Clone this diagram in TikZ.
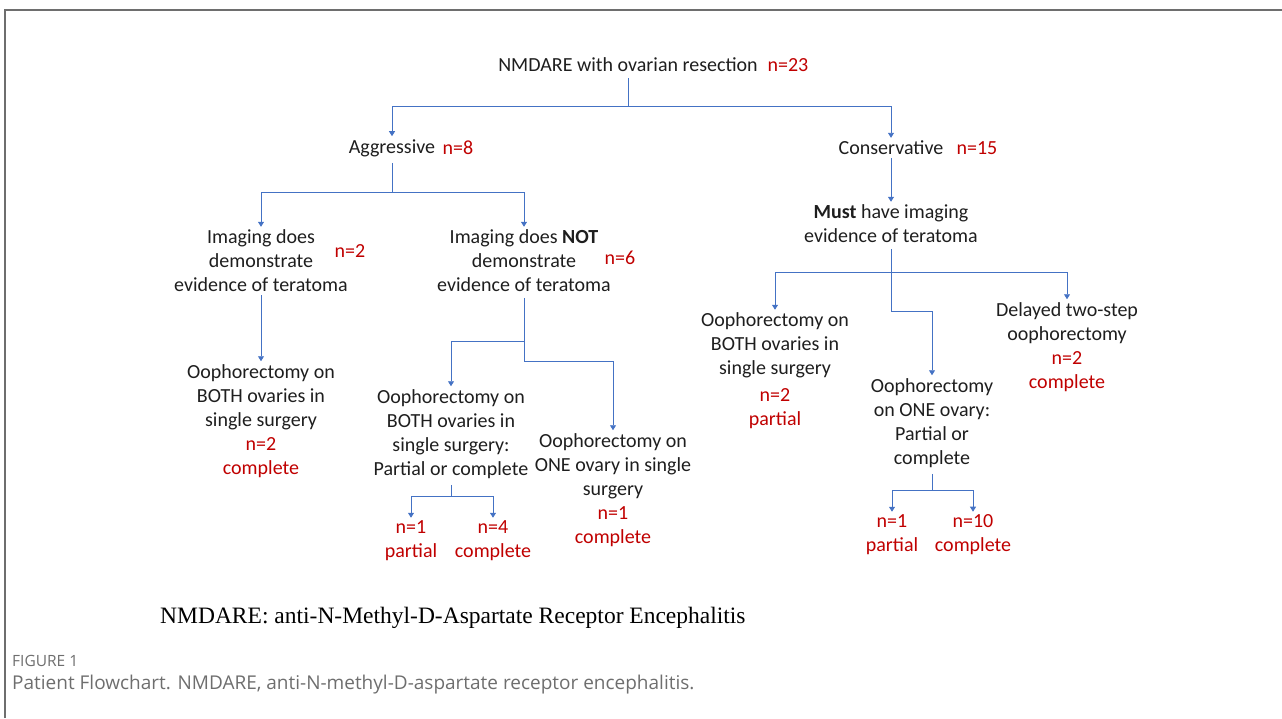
\documentclass[tikz,border=0pt]{standalone}
\usepackage{fontspec}
\setmainfont{Carlito}
\newfontfamily\legendfont{Liberation Serif}
\newfontfamily\capfont{Open Sans}
\usetikzlibrary{arrows.meta,positioning}
\definecolor{linkblue}{RGB}{68,114,196}
\definecolor{countred}{RGB}{192,0,0}
\definecolor{textblack}{RGB}{30,30,30}
\definecolor{capgray}{RGB}{110,110,110}

\begin{document}
\begin{tikzpicture}
  [x=1pt,y=-1pt,
   every node/.style={font=\fontsize{20}{24}\selectfont,text=textblack,align=center,inner sep=3pt},
   count/.style={text=countred},
   link/.style={draw=linkblue,line width=0.9pt,shorten <=3pt},
   arr/.style={draw=linkblue,line width=0.9pt,-{Triangle[length=5pt,width=6pt]}}]
  \useasboundingbox (0,0) rectangle (1282,718);
  \draw[capgray,line width=1.3pt] (5,718) -- (5,10) -- (1282,10);

  \node (root) at (628,65) {NMDARE with ovarian resection};
  \node[count] (nroot) at (788,65) {n=23};
  \node (agg) at (392,148) {Aggressive};
  \node[count] (nagg) at (458,148) {n=8};
  \node (cons) at (891,148) {Conservative};
  \node[count] (ncons) at (977,148) {n=15};

  \node (imgyes) at (261,261) {Imaging does\\demonstrate\\evidence of teratoma};
  \node[count] (nyes) at (350,251) {n=2};
  \node (imgno) at (524,261) {Imaging does \textbf{NOT}\\demonstrate\\evidence of teratoma};
  \node[count] (nno) at (620,258) {n=6};
  \node (must) at (891,224) {\textbf{Must} have imaging\\evidence of teratoma};

  \node (both1) at (261,421) {Oophorectomy on\\BOTH ovaries in\\single surgery\\
    \textcolor{countred}{n=2}\\\textcolor{countred}{complete}};
  \node (both2) at (451,434) {Oophorectomy on\\BOTH ovaries in\\single surgery:\\Partial or complete};
  \node (one2) at (613,490) {Oophorectomy on\\ONE ovary in single\\surgery\\
    \textcolor{countred}{n=1}\\\textcolor{countred}{complete}};
  \node[count] (p1) at (411,541) {n=1\\partial};
  \node[count] (c4) at (493,541) {n=4\\complete};

  \node (both3) at (775,371) {Oophorectomy on\\BOTH ovaries in\\single surgery\\[3pt]
    \textcolor{countred}{n=2}\\\textcolor{countred}{partial}};
  \node (one3) at (932,423) {Oophorectomy\\on ONE ovary:\\Partial or\\complete};
  \node (delay) at (1067,347) {Delayed two-step\\oophorectomy\\
    \textcolor{countred}{n=2}\\\textcolor{countred}{complete}};
  \node[count] (p2) at (892,535) {n=1\\partial};
  \node[count] (c10) at (973,535) {n=10\\complete};

  \coordinate (b0) at (628,106);
  \coordinate (b1) at (392,192);
  \coordinate (b2) at (524,341);
  \coordinate (b3) at (524,361);
  \coordinate (b4) at (451,496);
  \coordinate (b5) at (891,272);
  \coordinate (b6) at (891,311);
  \coordinate (b7) at (932,490);

  \foreach \from/\to in {root/b0,agg/b1,imgno/b3,both2/b4,must/b6,one3/b7}
    \draw[link] (\from.south) -- (\to);
  \foreach \from/\to in {b0/agg,b0/cons,b1/imgyes,b1/imgno,b2/both2,b3/one2,b4/p1,b4/c4,
                         b5/both3,b5/delay,b6/one3,b7/p2,b7/c10}
    \draw[arr] (\from) -| (\to.north);
  \draw[arr] (cons.south) -- (must.north);
  \draw[arr] (imgyes.south) -- (both1.north);

  \node[font=\legendfont\fontsize{23.5}{28}\selectfont,text=black,anchor=west,inner sep=0pt] (legend) at (160,618)
    {NMDARE: anti-N-Methyl-D-Aspartate Receptor Encephalitis};
  \node[font=\capfont\fontsize{15.5}{18}\selectfont,text=capgray,anchor=west,inner sep=0pt] (fig) at (12,661) {FIGURE 1};
  \node[font=\capfont\fontsize{19}{23}\selectfont,text=capgray,anchor=west,inner sep=0pt] (cap) at (12,685)
    {Patient Flowchart. NMDARE, anti-N-methyl-D-aspartate receptor encephalitis.};
\end{tikzpicture}
\end{document}
